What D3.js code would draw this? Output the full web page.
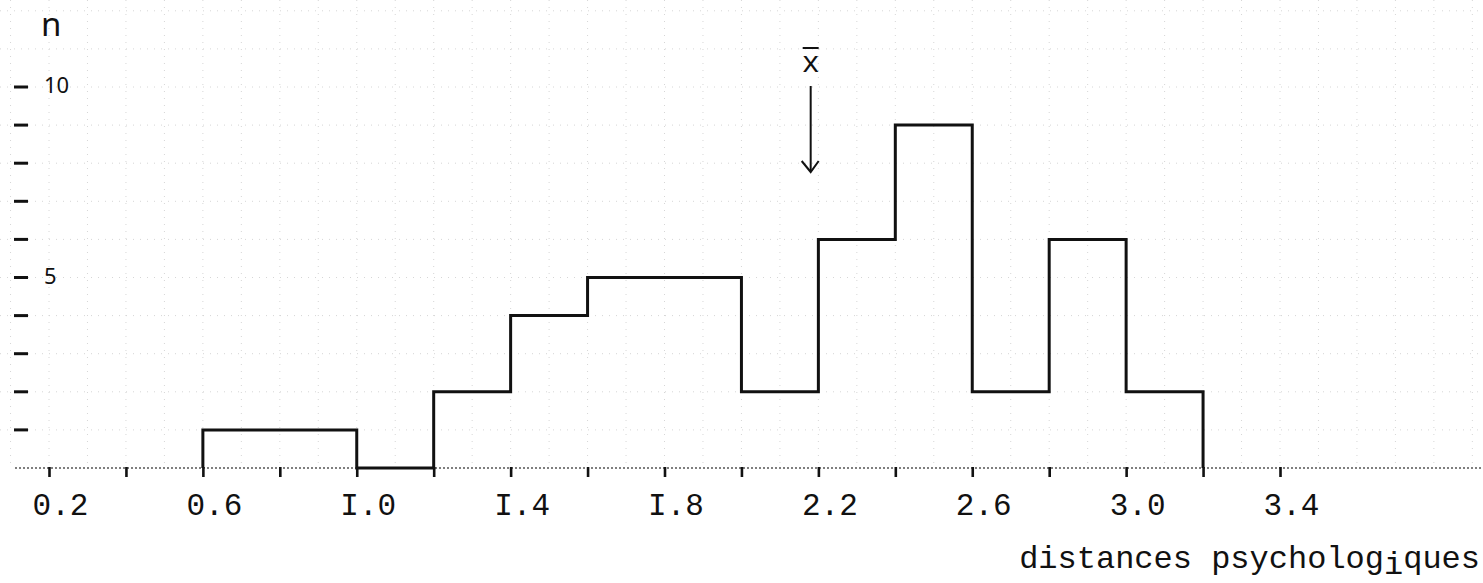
<!DOCTYPE html>
<html>
<head>
<meta charset="utf-8">
<script src="https://cdn.jsdelivr.net/npm/d3@7"></script>
<style>
  html, body { margin: 0; padding: 0; background: #fff; }
  svg { display: block; }
</style>
</head>
<body>
<svg id="chart" width="1483" height="583"></svg>
<script>
// Histogram of psychological distances: bins of width 0.2, counts per bin
const binStarts = [0.6, 0.8, 1.0, 1.2, 1.4, 1.6, 1.8, 2.0, 2.2, 2.4, 2.6, 2.8, 3.0];
const binCounts = [1, 1, 0, 2, 4, 5, 5, 2, 6, 9, 2, 6, 2];
const binWidth = 0.2;
const meanValue = 2.18;

// Axis ticks and labels
const xTickValues = [0.2, 0.4, 0.6, 0.8, 1.0, 1.2, 1.4, 1.6, 1.8, 2.0, 2.2, 2.4, 2.6, 2.8, 3.0, 3.2, 3.4];
const xLabelValues = [0.2, 0.6, 1.0, 1.4, 1.8, 2.2, 2.6, 3.0, 3.4];
const xLabels = ["0.2", "0.6", "I.0", "I.4", "I.8", "2.2", "2.6", "3.0", "3.4"];
const yTickValues = [1, 2, 3, 4, 5, 6, 7, 8, 9, 10];
const yLabelValues = [10, 5];
const yLabels = ["10", "5"];
const xTitle = ["distances psycholog", "i", "ques"];
const yTitle = "n";

const W = 1483, H = 583;
const svg = d3.select("#chart");

const x = d3.scaleLinear().domain([0.2, 3.4]).range([49, 1280]);
const y = d3.scaleLinear().domain([0, 10]).range([468, 87]);

const mono = "'Liberation Mono', 'DejaVu Sans Mono', monospace";
const hand = "'Noto Sans', 'DejaVu Sans', sans-serif";

// Faint graph-paper grid
const grid = svg.append("g").attr("stroke", "#d6d6d6").attr("stroke-width", 1)
  .attr("stroke-dasharray", "1,6").attr("fill", "none");
const gx = d3.range(-1, 38).map(k => 0.2 + k * 0.1);
grid.selectAll("line.v").data(gx).join("line").attr("class", "v")
  .attr("x1", d => x(d)).attr("x2", d => x(d))
  .attr("y1", 0).attr("y2", y(0));
grid.selectAll("line.h").data(d3.range(1, 13)).join("line").attr("class", "h")
  .attr("x1", 0).attr("x2", W)
  .attr("y1", d => y(d)).attr("y2", d => y(d));

// Baseline (dotted)
svg.append("line")
  .attr("x1", 15).attr("x2", W).attr("y1", y(0)).attr("y2", y(0))
  .attr("stroke", "#555").attr("stroke-width", 1.4).attr("stroke-dasharray", "2,2");

// X tick marks (every 0.2)
const xTickAxis = d3.axisBottom(x).tickValues(xTickValues).tickSize(10).tickFormat("");
const gxt = svg.append("g").attr("transform", `translate(0,${y(0) - 1})`).call(xTickAxis);
gxt.select(".domain").remove();
gxt.selectAll(".tick line").attr("stroke", "#111").attr("stroke-width", 2.6);

// X labels (typewritten)
const xLabelAxis = d3.axisBottom(x).tickValues(xLabelValues).tickSize(0)
  .tickFormat((d, i) => xLabels[i]);
const gxl = svg.append("g").attr("transform", `translate(11,${y(0)})`).call(xLabelAxis);
gxl.select(".domain").remove();
gxl.selectAll(".tick text")
  .attr("y", 47).attr("dy", null)
  .attr("font-family", mono).attr("font-size", 31).attr("fill", "#111");

// Y tick marks
svg.append("g").selectAll("line").data(yTickValues).join("line")
  .attr("x1", 14).attr("x2", 28)
  .attr("y1", d => y(d)).attr("y2", d => y(d))
  .attr("stroke", "#111").attr("stroke-width", 3);

// Y labels (handwritten style)
svg.append("g").selectAll("text").data(yLabelValues).join("text")
  .attr("x", 44).attr("y", d => y(d) + 6)
  .attr("font-family", hand).attr("font-size", 22).attr("fill", "#111")
  .text((d, i) => yLabels[i]);

svg.append("text").attr("x", 41).attr("y", 36)
  .attr("font-family", hand).attr("font-size", 33).attr("fill", "#111")
  .text(yTitle);

// Histogram outline
const pts = [{ x: binStarts[0], y: 0 }]
  .concat(binStarts.map((s, i) => ({ x: s, y: binCounts[i] })))
  .concat([{ x: binStarts[binStarts.length - 1] + binWidth, y: 0 }]);
const line = d3.line().x(d => x(d.x)).y(d => y(d.y)).curve(d3.curveStepAfter);
svg.append("path").attr("d", line(pts))
  .attr("fill", "none").attr("stroke", "#111").attr("stroke-width", 3)
  .attr("stroke-linejoin", "miter");

// Mean marker: x-bar with arrow
const mx = x(meanValue);
svg.append("text").attr("x", mx).attr("y", 72).attr("text-anchor", "middle")
  .attr("font-family", mono).attr("font-size", 30).attr("fill", "#111")
  .text("x");
svg.append("line").attr("x1", mx - 8).attr("x2", mx + 8).attr("y1", 48).attr("y2", 48)
  .attr("stroke", "#111").attr("stroke-width", 2);
svg.append("line").attr("x1", mx).attr("x2", mx).attr("y1", 86).attr("y2", 171)
  .attr("stroke", "#111").attr("stroke-width", 2);
svg.append("path")
  .attr("d", `M${mx - 9},${161} L${mx},${172} L${mx + 8},${161}`)
  .attr("fill", "none").attr("stroke", "#111").attr("stroke-width", 2);

// X axis title
const t = svg.append("text").attr("x", 1480).attr("y", 568).attr("text-anchor", "end")
  .attr("font-family", mono).attr("font-size", 32).attr("fill", "#111");
t.append("tspan").text(xTitle[0]);
t.append("tspan").attr("dy", 6).text(xTitle[1]);
t.append("tspan").attr("dy", -6).text(xTitle[2]);
</script>
</body>
</html>
